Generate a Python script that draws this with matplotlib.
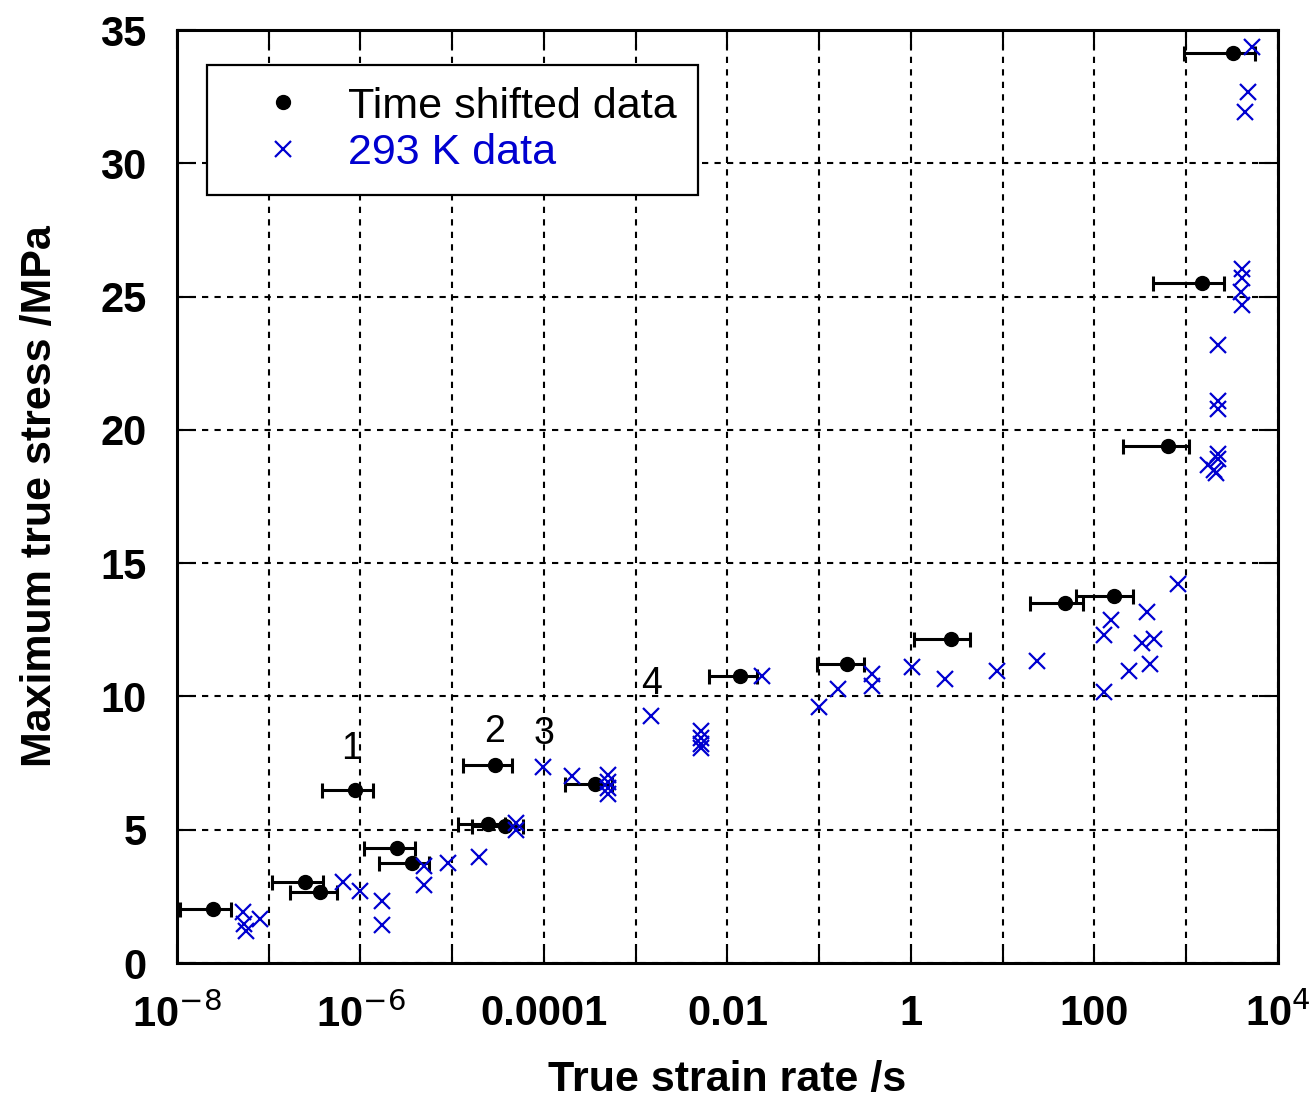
import numpy as np
import matplotlib
matplotlib.use("Agg")
import matplotlib.pyplot as plt
from matplotlib.lines import Line2D

plt.rcParams["font.family"] = ["Liberation Sans", "DejaVu Sans"]

# time shifted data: strain rate (1/s), max true stress (MPa), strain rate error
shift_rate = [2.49e-8, 2.48e-7, 3.62e-7, 8.7e-7, 2.48e-6, 3.61e-6, 2.92e-5, 2.45e-5,
              3.76e-5, 3.6e-4, 0.01367, 0.202, 2.73, 47.6, 163, 632, 1496, 3261]
shift_stress = [2.03, 3.03, 2.68, 6.5, 4.31, 3.74, 7.43, 5.22,
                5.14, 6.72, 10.76, 11.21, 12.14, 13.51, 13.75, 19.41, 25.51, 34.15]
shift_err = [1.4e-8, 1.4e-7, 1.9e-7, 4.9e-7, 1.4e-6, 2.0e-6, 1.6e-5, 1.3e-5,
             2.1e-5, 1.9e-4, 7.4e-3, 0.107, 1.65, 28, 100, 430, 1060, 2320]

# 293 K data
rt_rate = [5.2e-8, 5.4e-8, 5.6e-8, 8.0e-8, 6.5e-7, 9.9e-7, 1.7e-6, 1.7e-6,
           4.95e-6, 4.95e-6, 9.06e-6, 1.97e-5, 5.0e-5, 5.0e-5, 9.8e-5, 2.0e-4,
           5.0e-4, 5.0e-4, 5.0e-4, 5.0e-4, 1.47e-3, 5.2e-3, 5.2e-3, 5.2e-3, 5.2e-3,
           0.0236, 0.1, 0.161, 0.373, 0.373, 1.02, 2.35, 8.6, 23.8,
           128, 151, 128, 240, 327, 371, 403, 450, 818,
           1726, 2006, 2218, 2218, 2100, 2233, 2233, 2233,
           4083, 4083, 3950, 4100, 4744, 4365, 5164]
rt_stress = [1.9, 1.45, 1.2, 1.65, 3.03, 2.69, 2.34, 1.44,
             3.65, 2.93, 3.74, 3.97, 5.0, 5.25, 7.35, 7.03,
             7.05, 6.8, 6.55, 6.35, 9.27, 8.7, 8.45, 8.2, 8.05,
             10.76, 9.6, 10.29, 10.85, 10.39, 11.1, 10.66, 10.97, 11.32,
             12.29, 12.85, 10.18, 10.97, 12.01, 13.16, 11.22, 12.16, 14.23,
             18.7, 18.5, 19.1, 18.9, 18.4, 23.17, 21.1, 20.8,
             26.05, 25.7, 25.17, 24.7, 32.66, 31.93, 34.37]

# numbered annotations
note_text = ["1", "2", "3", "4"]
note_x = [8.07e-7, 2.92e-5, 1.0e-4, 1.47e-3]
note_y = [8.03, 8.67, 8.6, 10.47]

xtick_vals = [10.0 ** k for k in range(-8, 5)]
xtick_text = ["10$^{-8}$", "", "10$^{-6}$", "", "0.0001", "", "0.01", "", "1", "", "100", "", "10$^{4}$"]

blue = "#0000d0"

fig = plt.figure(figsize=(13.14, 11.03), dpi=100)
ax = fig.add_axes([0.1347, 0.1269, 0.8379, 0.8459])

ax.errorbar(shift_rate, shift_stress, xerr=shift_err, fmt="o", color="black",
            markersize=10, elinewidth=2.2, capsize=5.4, capthick=2.2, zorder=3)
ax.plot(rt_rate, rt_stress, "x", color=blue, markersize=11, markeredgewidth=1.6,
        linestyle="none", zorder=4)

for t, xx, yy in zip(note_text, note_x, note_y):
    ax.text(xx, yy, t, fontsize=27, ha="center", va="center")

ax.set_xscale("log")
ax.set_xlim(1e-8, 1e4)
ax.set_ylim(0, 35)
ax.set_xticks(xtick_vals)
ax.set_xticklabels(xtick_text)
ax.xaxis.set_minor_locator(matplotlib.ticker.NullLocator())
ax.set_yticks(np.arange(0, 36, 5))

ax.grid(True, color="black", linestyle=(0, (3, 3)), linewidth=1.5)
ax.tick_params(axis="both", which="major", direction="in", length=14, width=1.5,
               top=True, right=True, labelsize=30)
ax.tick_params(axis="x", pad=22)
ax.tick_params(axis="y", pad=22)
for lab in ax.get_xticklabels() + ax.get_yticklabels():
    lab.set_fontweight("bold")
for sp in ax.spines.values():
    sp.set_linewidth(2.2)

ax.set_xlabel("True strain rate /s", fontsize=31, fontweight="bold", labelpad=17)
ax.set_ylabel("Maximum true stress /MPa", fontsize=31, fontweight="bold", labelpad=29)

h_shift = Line2D([], [], marker="o", color="black", markersize=10, linestyle="none")
h_rt = Line2D([], [], marker="x", color=blue, markersize=11, markeredgewidth=1.6,
              linestyle="none")
leg = ax.legend([h_shift, h_rt], ["Time shifted data", "293 K data"],
                loc="upper left", bbox_to_anchor=(0.0272, 0.9625), borderaxespad=0,
                fontsize=31, fancybox=False, edgecolor="black", framealpha=1,
                borderpad=0.5, handlelength=2.54, handletextpad=0.24, labelspacing=0.15)
leg.get_frame().set_linewidth(1.6)
leg.get_texts()[1].set_color(blue)

fig.savefig("out.png", dpi=100)
